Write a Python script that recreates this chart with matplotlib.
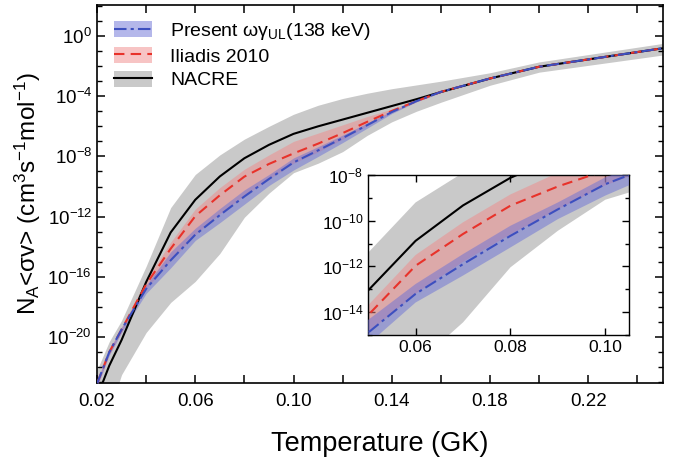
import numpy as np
import matplotlib
matplotlib.use("Agg")
import matplotlib.pyplot as plt
from matplotlib.ticker import FixedLocator, FuncFormatter, NullFormatter
from matplotlib.patches import Patch
from matplotlib.lines import Line2D

plt.rcParams['font.family'] = ['Liberation Sans', 'DejaVu Sans']
plt.rcParams['mathtext.default'] = 'regular'

# Temperature grid (GK)
T = [0.02, 0.025, 0.03, 0.04, 0.05, 0.06, 0.07, 0.08, 0.09, 0.10,
     0.11, 0.12, 0.13, 0.14, 0.15, 0.16, 0.18, 0.20, 0.25]

# log10 of reaction rates
present_med = [-23.1, -21.0, -19.5, -16.8, -14.9, -13.2, -11.9, -10.66, -9.5, -8.4,
               -7.6, -6.78, -5.92, -5.05, -4.33, -3.71, -2.82, -2.04, -0.82]
present_hi = [-22.9, -20.85, -19.35, -16.55, -14.34, -12.77, -11.46, -10.22, -9.2, -8.1,
              -7.35, -6.58, -5.78, -4.98, -4.3, -3.68, -2.79, -2.01, -0.79]
present_lo = [-23.3, -21.2, -19.7, -17.1, -15.4, -13.58, -12.4, -11.17, -9.93, -8.9,
              -8.0, -7.08, -6.12, -5.15, -4.37, -3.74, -2.85, -2.07, -0.85]

iliadis_med = [-23.1, -21.0, -19.5, -16.5, -14.13, -11.97, -10.58, -9.34, -8.5, -7.8,
               -7.15, -6.45, -5.7, -4.98, -4.33, -3.71, -2.82, -2.04, -0.82]
iliadis_hi = [-22.9, -20.85, -19.35, -16.2, -13.7, -11.5, -10.07, -8.85, -7.9, -7.0,
              -6.45, -5.9, -5.35, -4.85, -4.28, -3.68, -2.79, -2.01, -0.79]
iliadis_lo = [-23.3, -21.15, -19.65, -16.8, -14.9, -13.2, -11.8, -10.6, -9.5, -8.45,
              -7.7, -6.85, -5.95, -5.08, -4.37, -3.74, -2.85, -2.07, -0.85]

nacre_med = [-24.0, -21.9, -20.2, -16.35, -13.05, -10.88, -9.33, -8.12, -7.23, -6.5,
             -6.0, -5.55, -5.1, -4.65, -4.2, -3.72, -2.82, -2.04, -0.82]
nacre_hi = [-22.2, -20.3, -18.9, -15.3, -11.4, -9.2, -7.9, -6.85, -6.0, -5.2,
            -4.6, -4.15, -3.8, -3.5, -3.25, -3.0, -2.44, -1.72, -0.5]
nacre_lo = [-27.0, -25.0, -22.5, -19.7, -17.7, -16.3, -14.45, -12.04, -10.44, -9.08,
            -8.45, -7.68, -6.6, -5.7, -5.0, -4.4, -3.27, -2.4, -1.27]

labels = ["Present ωγ$_{UL}$(138 keV)", "Iliadis 2010", "NACRE"]

c_gray = '#c9c9c9'
c_red = '#e8322a'
c_redband = '#f08a8a'
c_blue = '#3d4fbf'
c_blueband = '#6a70d6'


def p(a):
    return 10.0 ** np.asarray(a)


def draw(ax):
    ax.fill_between(T, p(nacre_lo), p(nacre_hi), color=c_gray, lw=0, zorder=1)
    ax.fill_between(T, p(iliadis_lo), p(iliadis_hi), color=c_redband, alpha=0.5, lw=0, zorder=2)
    ax.fill_between(T, p(present_lo), p(present_hi), color=c_blueband, alpha=0.5, lw=0, zorder=3)
    ax.plot(T, p(nacre_med), color='black', lw=1.5, zorder=4)
    ax.plot(T, p(iliadis_med), color=c_red, lw=1.5, ls=(0, (5, 3)), zorder=5)
    ax.plot(T, p(present_med), color=c_blue, lw=1.5, ls=(0, (6, 2, 1.5, 2)), zorder=6)


def logfmt(v, pos):
    e = int(round(np.log10(v)))
    return "$10^{%d}$" % e


fig = plt.figure(figsize=(6.83, 4.57), dpi=100)
ax = fig.add_axes([0.142, 0.162, 0.829, 0.827])
draw(ax)
ax.set_yscale('log')
ax.set_xlim(0.02, 0.2505)
ax.set_ylim(10 ** -23.05, 10 ** 2.06)
ax.xaxis.set_major_locator(FixedLocator(np.arange(0.02, 0.2501, 0.02)))
ax.xaxis.set_major_formatter(FuncFormatter(
    lambda v, pos: ("%.2f" % v) if (round(v / 0.02) % 2 == 1) else ""))
ax.yaxis.set_major_locator(FixedLocator([10.0 ** e for e in range(-20, 1, 4)]))
ax.yaxis.set_minor_locator(FixedLocator([10.0 ** e for e in range(-23, 3)]))
ax.yaxis.set_major_formatter(FuncFormatter(logfmt))
ax.yaxis.set_minor_formatter(NullFormatter())
ax.tick_params(which='both', direction='in', top=True, right=True, labelsize=13.5)
ax.tick_params(which='major', length=6, width=1.1)
ax.tick_params(which='minor', length=3.5, width=1.0)
ax.tick_params(axis='x', pad=7)
for s in ax.spines.values():
    s.set_linewidth(1.2)
ax.set_xlabel("Temperature (GK)", fontsize=19.5, labelpad=15)
ax.set_ylabel("N$_A$<σv> (cm$^3$s$^{-1}$mol$^{-1}$)", fontsize=17.5, labelpad=3)

handles = [
    (Patch(facecolor=c_blueband, alpha=0.5, lw=0), Line2D([], [], color=c_blue, lw=1.5, ls=(0, (6, 2, 1.5, 2)))),
    (Patch(facecolor=c_redband, alpha=0.5, lw=0), Line2D([], [], color=c_red, lw=1.5, ls=(0, (5, 3)))),
    (Patch(facecolor=c_gray, lw=0), Line2D([], [], color='black', lw=1.5)),
]
ax.legend(handles, labels, loc='upper left', frameon=False, fontsize=14,
          handlelength=1.95, handleheight=0.9, handletextpad=0.95,
          labelspacing=0.25, borderaxespad=0.0, bbox_to_anchor=(0.016, 0.978))

# inset
axin = fig.add_axes([0.539, 0.267, 0.382, 0.350])
draw(axin)
axin.set_yscale('log')
axin.set_xlim(0.05, 0.105)
axin.set_ylim(1e-15, 1e-8)
axin.xaxis.set_major_locator(FixedLocator([0.06, 0.08, 0.10]))
axin.xaxis.set_major_formatter(FuncFormatter(lambda v, pos: "%.2f" % v))
axin.yaxis.set_major_locator(FixedLocator([1e-14, 1e-12, 1e-10, 1e-8]))
axin.yaxis.set_minor_locator(FixedLocator([10.0 ** e for e in range(-15, -7)]))
axin.yaxis.set_major_formatter(FuncFormatter(logfmt))
axin.yaxis.set_minor_formatter(NullFormatter())
axin.tick_params(which='both', direction='in', top=True, right=True, labelsize=12.5)
axin.tick_params(which='major', length=5, width=1.0)
axin.tick_params(which='minor', length=3, width=1.0)
for s in axin.spines.values():
    s.set_linewidth(1.0)

fig.savefig("out.png", dpi=100)
